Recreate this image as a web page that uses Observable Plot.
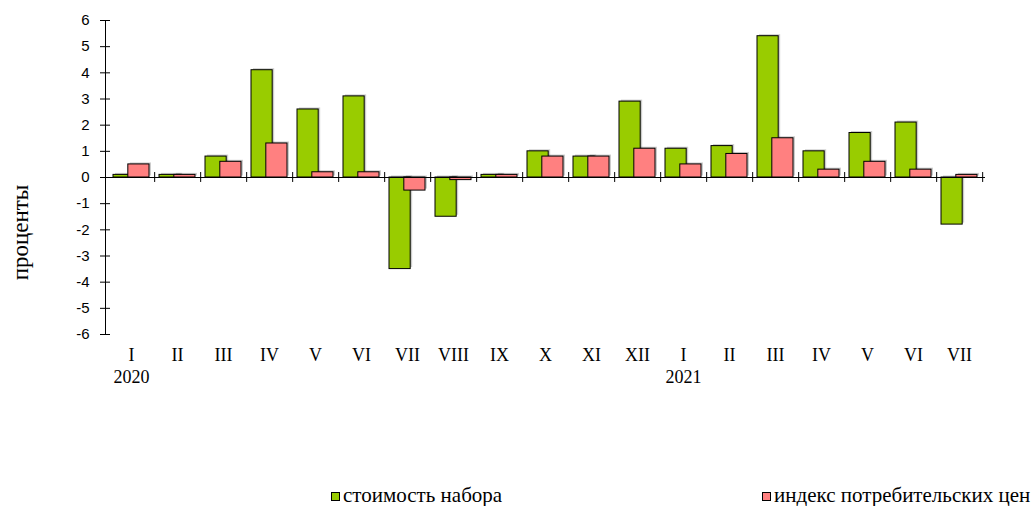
<!DOCTYPE html>
<html>
<head>
<meta charset="utf-8">
<script src="https://cdn.jsdelivr.net/npm/d3@7"></script>
<script src="https://cdn.jsdelivr.net/npm/@observablehq/plot@0.6"></script>
<style>
  body { margin: 0; background: #fff; }
  #chart { position: relative; width: 1035px; height: 506px; overflow: hidden; }
  .legend { position: absolute; top: 485px; font-family: "Liberation Serif", "Times New Roman", Times, serif; font-size: 21px; color: #000; line-height: 21px; white-space: nowrap; }
  .sw { display: inline-block; width: 7px; height: 7px; border: 1px solid #000; margin-right: 3px; vertical-align: 1px; }
</style>
</head>
<body>
<div id="chart"></div>
<script>
// Months (Roman numerals), Jan 2020 – Jul 2021
const months = ["I","II","III","IV","V","VI","VII","VIII","IX","X","XI","XII","I","II","III","IV","V","VI","VII"];
const years = ["2020","","","","","","","","","","","","2021","","","","","",""];
// Series values, percent
const cost = [0.1, 0.1, 0.8, 4.1, 2.6, 3.1, -3.5, -1.5, 0.1, 1.0, 0.8, 2.9, 1.1, 1.2, 5.4, 1.0, 1.7, 2.1, -1.8];
const cpi  = [0.5, 0.1, 0.6, 1.3, 0.2, 0.2, -0.5, -0.1, 0.1, 0.8, 0.8, 1.1, 0.5, 0.9, 1.5, 0.3, 0.6, 0.3, 0.1];
const yTicks = [-6,-5,-4,-3,-2,-1,0,1,2,3,4,5,6];
const seriesNames = ["стоимость набора", "индекс потребительских цен"];
const colors = ["#99cc00", "#ff8080"];
const yTitle = "проценты";

const idx = d3.range(months.length);
const W = 1035, H = 470;
const mL = 105, mR = 50, mT = 20, mB = 136;
const bw = (W - mL - mR) / idx.length;
const barW = 21.5;
const sans = "'Liberation Sans', Arial, sans-serif";
const serif = "'Liberation Serif', 'Times New Roman', Times, serif";

const plot = Plot.plot({
  width: W, height: H,
  marginLeft: mL, marginRight: mR, marginTop: mT, marginBottom: mB,
  style: { background: "#fff", overflow: "visible" },
  x: { type: "band", domain: idx, padding: 0, axis: null },
  y: { domain: [-6, 6], axis: null },
  marks: [
    Plot.barY(idx, { x: d => d, y: i => cost[i], fill: "#000", fillOpacity: 0.2, insetLeft: 5, insetRight: bw - 5 - barW, dx: 2, dy: -1.5 }),
    Plot.barY(idx, { x: d => d, y: i => cpi[i], fill: "#000", fillOpacity: 0.2, insetLeft: bw - 5 - barW, insetRight: 5, dx: 2, dy: -1.5 }),
    Plot.barY(idx, { x: d => d, y: i => cost[i], fill: colors[0], stroke: "#000", strokeWidth: 1, insetLeft: 5, insetRight: bw - 5 - barW }),
    Plot.barY(idx, { x: d => d, y: i => cpi[i], fill: colors[1], stroke: "#000", strokeWidth: 1, insetLeft: bw - 5 - barW, insetRight: 5 }),
    Plot.frame({ anchor: "left", stroke: "#000" }),
    Plot.axisY({ ticks: yTicks, tickSize: 10, dx: 5, tickPadding: 11, tickFormat: d => String(d), fontFamily: sans, fontSize: 15, fill: "#000", stroke: "#000", color: "#000" }),
    Plot.ruleY([0], { stroke: "#000" }),
    Plot.ruleX(idx, { x: d => d, y1: -0.19, y2: 0.19, dx: bw / 2, stroke: "#000" }),
    Plot.text(idx, { x: d => d, text: i => months[i], frameAnchor: "bottom", dy: 26, fontFamily: serif, fontSize: 18, fill: "#000" }),
    Plot.text(idx.filter(i => years[i]), { x: d => d, text: i => years[i], frameAnchor: "bottom", dy: 48, fontFamily: serif, fontSize: 18, fill: "#000" }),
    Plot.text([yTitle], { text: d => d, frameAnchor: "left", textAnchor: "middle", dx: -85, dy: 55, rotate: -90, fontFamily: serif, fontSize: 23, fill: "#000" })
  ]
});

const chart = document.getElementById("chart");
chart.appendChild(plot);

const legendPos = [331, 762];
seriesNames.forEach((name, k) => {
  const div = document.createElement("div");
  div.className = "legend";
  div.style.left = legendPos[k] + "px";
  const sw = document.createElement("span");
  sw.className = "sw";
  sw.style.background = colors[k];
  div.appendChild(sw);
  div.appendChild(document.createTextNode(name));
  chart.appendChild(div);
});
</script>
</body>
</html>
